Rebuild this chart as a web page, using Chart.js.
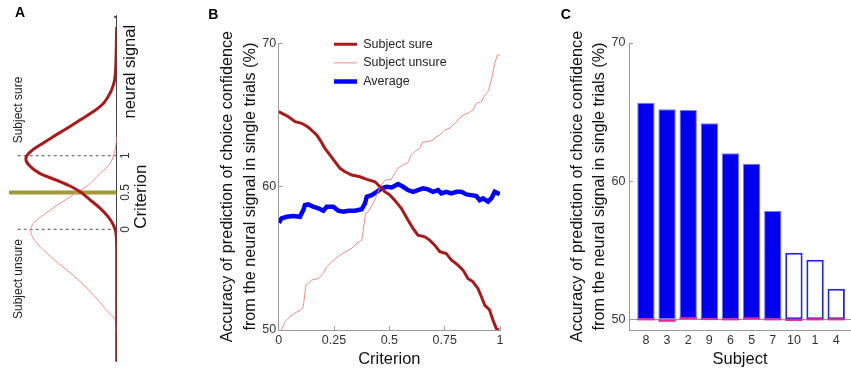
<!DOCTYPE html>
<html>
<head>
<meta charset="utf-8">
<script src="https://cdn.jsdelivr.net/npm/chart.js@4.4.1/dist/chart.umd.min.js"></script>
<style>
    html, body { margin: 0; padding: 0; background: #fff; }
    #wrap { position: relative; width: 851px; height: 372px; overflow: hidden; }
    .panel { position: absolute; top: 0; }
</style>
</head>
<body>
<div id="wrap">
    <div class="panel" style="left:0px"><canvas id="panelA" width="175" height="372"></canvas></div>
    <div class="panel" style="left:175px"><canvas id="panelB" width="340" height="372"></canvas></div>
    <div class="panel" style="left:540px"><canvas id="panelC" width="311" height="372"></canvas></div>
</div>
<script>
// ---- Panel A: neural signal distributions (signal in criterion units, density) ----
const sureSignal = [-1.8, -0.3, -0.05, 0.06, 0.17, 0.285, 0.4, 0.52, 0.6, 0.68, 0.76, 0.87, 0.965, 1.05, 1.145, 1.26, 1.37, 1.485, 1.6, 1.71, 1.85, 1.96, 2.07, 2.3, 2.75];
const sureDensity = [0, 0, 0.008, 0.037, 0.092, 0.18, 0.29, 0.41, 0.53, 0.68, 0.84, 0.955, 0.99, 0.945, 0.836, 0.69, 0.545, 0.4, 0.255, 0.146, 0.073, 0.037, 0.018, 0.008, 0];
const unsureSignal = [-1.4, -1.23, -1.1, -0.89, -0.666, -0.46, -0.28, -0.12, -0.01, 0.08, 0.194, 0.353, 0.52, 0.6, 0.715, 0.897, 1.08, 1.26];
const unsureDensity = [0, 0.018, 0.109, 0.255, 0.436, 0.636, 0.8, 0.909, 0.938, 0.909, 0.8, 0.618, 0.41, 0.31, 0.218, 0.073, 0.018, 0];
const meanLevels = [0, 1];
const criterionLevel = 0.5;
const criterionTicks = [0, 0.5, 1];

// ---- Panel B: accuracy vs criterion ----
const sureCrit = [0, 0.044, 0.074, 0.104, 0.134, 0.156, 0.172, 0.187, 0.209, 0.232, 0.254, 0.277, 0.3, 0.33, 0.367, 0.398, 0.435, 0.458, 0.48, 0.503, 0.524, 0.554, 0.584, 0.607, 0.629, 0.66, 0.682, 0.705, 0.728, 0.757, 0.78, 0.81, 0.833, 0.855, 0.878, 0.9, 0.916, 0.931, 0.953, 0.968, 0.983, 0.995];
const sureAcc = [65.23, 64.88, 64.53, 64.42, 64.14, 63.83, 63.6, 63.25, 62.67, 62.2, 61.74, 61.28, 61.04, 60.81, 60.69, 60.51, 60.34, 59.99, 59.64, 59.41, 59.06, 58.49, 57.67, 57.09, 56.62, 56.5, 56.27, 55.92, 55.46, 55.34, 54.88, 54.53, 54.18, 53.6, 53.36, 52.9, 52.32, 51.74, 51.39, 50.69, 50.11, 50.0];
const unsureCrit = [0.013, 0.028, 0.051, 0.074, 0.096, 0.111, 0.123, 0.149, 0.179, 0.202, 0.217, 0.247, 0.277, 0.3, 0.33, 0.352, 0.375, 0.382, 0.393, 0.405, 0.427, 0.443, 0.458, 0.48, 0.509, 0.524, 0.539, 0.562, 0.584, 0.599, 0.615, 0.637, 0.652, 0.675, 0.697, 0.712, 0.728, 0.75, 0.773, 0.788, 0.81, 0.833, 0.855, 0.878, 0.893, 0.916, 0.931, 0.946, 0.961, 0.976, 0.988, 1.0];
const unsureAcc = [50.0, 50.58, 50.93, 51.2, 51.34, 51.62, 53.13, 53.48, 53.6, 53.95, 54.41, 54.88, 55.23, 55.46, 55.69, 56.04, 56.27, 56.97, 58.14, 58.25, 58.84, 59.41, 59.99, 60.46, 60.5, 60.93, 61.28, 61.51, 61.67, 62.2, 62.44, 62.67, 63.13, 63.13, 63.25, 63.48, 63.6, 63.95, 64.07, 64.3, 64.65, 65.0, 65.12, 65.35, 65.81, 65.93, 66.39, 66.62, 67.44, 68.6, 69.18, 69.18];
const avgCrit = [0.001, 0.013, 0.036, 0.066, 0.096, 0.111, 0.119, 0.134, 0.156, 0.179, 0.202, 0.217, 0.247, 0.269, 0.292, 0.315, 0.345, 0.375, 0.39, 0.398, 0.42, 0.443, 0.465, 0.488, 0.51, 0.517, 0.539, 0.562, 0.584, 0.607, 0.629, 0.652, 0.675, 0.697, 0.72, 0.735, 0.757, 0.78, 0.803, 0.825, 0.848, 0.87, 0.893, 0.908, 0.923, 0.946, 0.961, 0.976, 0.999];
const avgAcc = [57.48, 57.79, 57.9, 57.95, 57.9, 58.37, 58.72, 58.76, 58.6, 58.49, 58.32, 58.6, 58.6, 58.32, 58.25, 58.32, 58.32, 58.42, 58.84, 59.3, 59.41, 59.64, 59.88, 59.99, 59.95, 59.99, 60.18, 59.99, 59.76, 59.64, 59.76, 59.88, 59.81, 59.64, 59.76, 59.53, 59.64, 59.53, 59.64, 59.64, 59.46, 59.41, 59.34, 59.06, 59.18, 58.95, 59.18, 59.64, 59.48];
const criterionAxisTicks = [0, 0.25, 0.5, 0.75, 1];

// ---- Panel C: accuracy per subject ----
const subjects = ['8', '3', '2', '9', '6', '5', '7', '10', '1', '4'];
const subjectAcc = [65.68, 65.2, 65.15, 64.19, 62.02, 61.26, 57.84, 54.82, 54.31, 52.21];
const significant = [true, true, true, true, true, true, true, false, false, false];
const shuffledAcc = [50.0, 49.9, 50.08, 50.02, 50.0, 50.06, 50.0, 49.96, 50.0, 50.0];
const chanceLevel = 50;
const accuracyTicks = [50, 60, 70];

const yTitle = ['Accuracy of prediction of choice confidence', 'from the neural signal in single trials (%)'];

Chart.defaults.font.family = "'Liberation Sans', Arial, Helvetica, sans-serif";
Chart.defaults.color = '#333';
Chart.defaults.animation = false;

// free text (panel letters, rotated labels)
const textLabels = {
    id: 'textLabels',
    afterDraw(chart, args, opts) {
        const ctx = chart.ctx;
        (opts.items || []).forEach(item => {
            ctx.save();
            ctx.translate(item.x, item.y);
            if (item.rotate) ctx.rotate(-Math.PI / 2);
            ctx.font = item.font;
            ctx.fillStyle = item.color || '#222';
            ctx.textAlign = 'center';
            ctx.textBaseline = 'middle';
            ctx.fillText(item.text, 0, 0);
            ctx.restore();
        });
    }
};

// move the in-plot legend to its spot
const legendShift = {
    id: 'legendShift',
    afterLayout(chart, args, opts) {
        const lg = chart.legend;
        if (!lg) return;
        lg.left += opts.dx; lg.right += opts.dx;
        lg.top += opts.dy; lg.bottom += opts.dy;
    }
};

function toPoints(xs, ys) {
    return xs.map((x, i) => ({x: x, y: ys[i]}));
}

// Panel A
const densityMax = 1.174;
const dashReach = 1.1;
const signalMin = -1.8, signalMax = 2.9;

new Chart(document.getElementById('panelA'), {
    type: 'scatter',
    data: {
        datasets: [
            {data: toPoints(sureDensity, sureSignal), showLine: true, borderColor: '#aa1a1a', borderWidth: 3, pointRadius: 0, tension: 0.35},
            {data: toPoints(unsureDensity, unsureSignal), showLine: true, borderColor: '#f48a8a', borderWidth: 1, pointRadius: 0, tension: 0.35},
            ...meanLevels.map(level => ({
                data: [{x: 0, y: level}, {x: dashReach, y: level}],
                showLine: true, borderColor: '#555', borderWidth: 1, borderDash: [3, 3], pointRadius: 0
            })),
            {data: [{x: 0, y: criterionLevel}, {x: densityMax, y: criterionLevel}], showLine: true, borderColor: '#a0993a', borderWidth: 4, pointRadius: 0},
            {data: [{x: 0, y: signalMax}], pointStyle: 'triangle', pointRadius: 3.5, backgroundColor: '#333', borderColor: '#333', borderWidth: 0}
        ]
    },
    options: {
        responsive: false,
        events: [],
        layout: {padding: {top: 15.9, bottom: 10.2, left: 9, right: 0}},
        scales: {
            x: {type: 'linear', reverse: true, min: 0, max: densityMax, display: false},
            y: {
                type: 'linear', position: 'right', min: signalMin, max: signalMax,
                afterBuildTicks: s => { s.ticks = criterionTicks.map(v => ({value: v})); },
                ticks: {minRotation: 90, maxRotation: 90, crossAlign: 'center', padding: 1, autoSkip: false, callback: v => String(v), font: {size: 12}, color: '#333'},
                grid: {display: false, drawTicks: false},
                border: {color: '#444', width: 1},
                afterFit: s => { s.width = 58.3; }
            }
        },
        plugins: {
            legend: {display: false},
            tooltip: {enabled: false},
            textLabels: {items: [
                {text: 'A', x: 20, y: 13.5, font: 'bold 14px "Liberation Sans", Arial', color: '#000'},
                {text: 'neural signal', x: 130, y: 71.7, rotate: true, font: '16.5px "Liberation Sans", Arial', color: '#111'},
                {text: 'Criterion', x: 141.7, y: 196.7, rotate: true, font: '17px "Liberation Sans", Arial', color: '#111'},
                {text: 'Subject sure', x: 19, y: 110, rotate: true, font: '12px "Liberation Sans", Arial', color: '#222'},
                {text: 'Subject unsure', x: 19, y: 279, rotate: true, font: '12px "Liberation Sans", Arial', color: '#222'}
            ]}
        }
    },
    plugins: [textLabels]
});

// Panel B
new Chart(document.getElementById('panelB'), {
    type: 'scatter',
    data: {
        datasets: [
            {label: 'Subject sure', data: toPoints(sureCrit, sureAcc), showLine: true, borderColor: '#aa1a1a', borderWidth: 3, pointRadius: 0},
            {label: 'Subject unsure', data: toPoints(unsureCrit, unsureAcc), showLine: true, borderColor: '#f48a8a', borderWidth: 1, pointRadius: 0},
            {label: 'Average', data: toPoints(avgCrit, avgAcc), showLine: true, borderColor: '#0000ff', borderWidth: 4.5, pointRadius: 0}
        ]
    },
    options: {
        responsive: false,
        events: [],
        layout: {padding: {top: 43.3, right: 15, bottom: 0, left: 0}},
        scales: {
            x: {
                type: 'linear', min: 0, max: 1,
                afterBuildTicks: s => { s.ticks = criterionAxisTicks.map(v => ({value: v})); },
                ticks: {callback: v => String(v), font: {size: 12.5}, color: '#333', padding: 7.2},
                grid: {drawOnChartArea: false, tickLength: -4, color: '#999'},
                border: {color: '#999'},
                title: {display: true, text: 'Criterion', font: {size: 16.5}, color: '#111', padding: {top: 0, bottom: 2.8}},
                afterFit: s => { s.height = 42; }
            },
            y: {
                type: 'linear', min: 50, max: 70,
                afterBuildTicks: s => { s.ticks = accuracyTicks.map(v => ({value: v})); },
                ticks: {font: {size: 12.5}, color: '#333', padding: 6.5},
                grid: {drawOnChartArea: false, tickLength: -4, color: '#999'},
                border: {color: '#999'},
                title: {display: true, text: yTitle, font: {size: 16.2, lineHeight: 1.4}, color: '#111', padding: {top: 41.5, bottom: 0}},
                afterFit: s => { s.width = 103.7; }
            }
        },
        plugins: {
            legend: {
                position: 'chartArea', align: 'start',
                labels: {usePointStyle: true, pointStyle: 'line', pointStyleWidth: 23, padding: 6.2, font: {size: 12.5}, color: '#222'}
            },
            legendShift: {dx: 49.1, dy: 31.7},
            tooltip: {enabled: false},
            textLabels: {items: [
                {text: 'B', x: 38.3, y: 14.7, font: 'bold 14px "Liberation Sans", Arial', color: '#000'}
            ]}
        }
    },
    plugins: [legendShift, textLabels]
});

// Panel C
const barShape = {grouped: false, barPercentage: 1, categoryPercentage: 0.82};
const shuffledHalf = 0.08;

new Chart(document.getElementById('panelC'), {
    type: 'bar',
    data: {
        datasets: [
            Object.assign({
                data: shuffledAcc.map((v, i) => ({x: i, y: [v - shuffledHalf, v + shuffledHalf]})),
                backgroundColor: '#e8249f', borderWidth: 0
            }, barShape),
            Object.assign({
                data: subjectAcc.map((v, i) => ({x: i, y: [chanceLevel, v]})),
                backgroundColor: significant.map(s => s ? '#0000f0' : '#ffffff'),
                borderColor: significant.map(s => s ? '#7777ff' : '#1f1fff'),
                borderWidth: significant.map(s => s ? 1 : 2),
                borderSkipped: false
            }, barShape)
        ]
    },
    options: {
        responsive: false,
        events: [],
        layout: {padding: {top: 43, right: 0, bottom: 0, left: 0}},
        scales: {
            x: {
                type: 'linear', min: -0.8, max: 9.7, offset: false,
                afterBuildTicks: s => { s.ticks = subjects.map((_, i) => ({value: i})); },
                ticks: {autoSkip: false, callback: v => subjects[v], font: {size: 12.5}, color: '#333', padding: 3.2},
                grid: {display: false, drawTicks: false, offset: false},
                border: {color: '#999'},
                title: {display: true, text: 'Subject', font: {size: 16.5}, color: '#111', padding: {top: 0, bottom: 2.8}},
                afterFit: s => { s.height = 42; }
            },
            y: {
                type: 'linear', min: 49.225, max: 70,
                afterBuildTicks: s => { s.ticks = accuracyTicks.map(v => ({value: v})); },
                ticks: {font: {size: 12.5}, color: '#333', padding: 7.5},
                grid: {
                    drawOnChartArea: true, tickLength: -4, tickColor: '#999',
                    color: c => (c.tick && c.tick.value === chanceLevel) ? '#999' : 'rgba(0,0,0,0)'
                },
                border: {color: '#999'},
                title: {display: true, text: yTitle, font: {size: 16.2, lineHeight: 1.4}, color: '#111', padding: {top: 25.7, bottom: 0}},
                afterFit: s => { s.width = 89; }
            }
        },
        plugins: {
            legend: {display: false},
            tooltip: {enabled: false},
            textLabels: {items: [
                {text: 'C', x: 25.8, y: 15, font: 'bold 14px "Liberation Sans", Arial', color: '#000'}
            ]}
        }
    },
    plugins: [textLabels]
});
</script>
</body>
</html>
